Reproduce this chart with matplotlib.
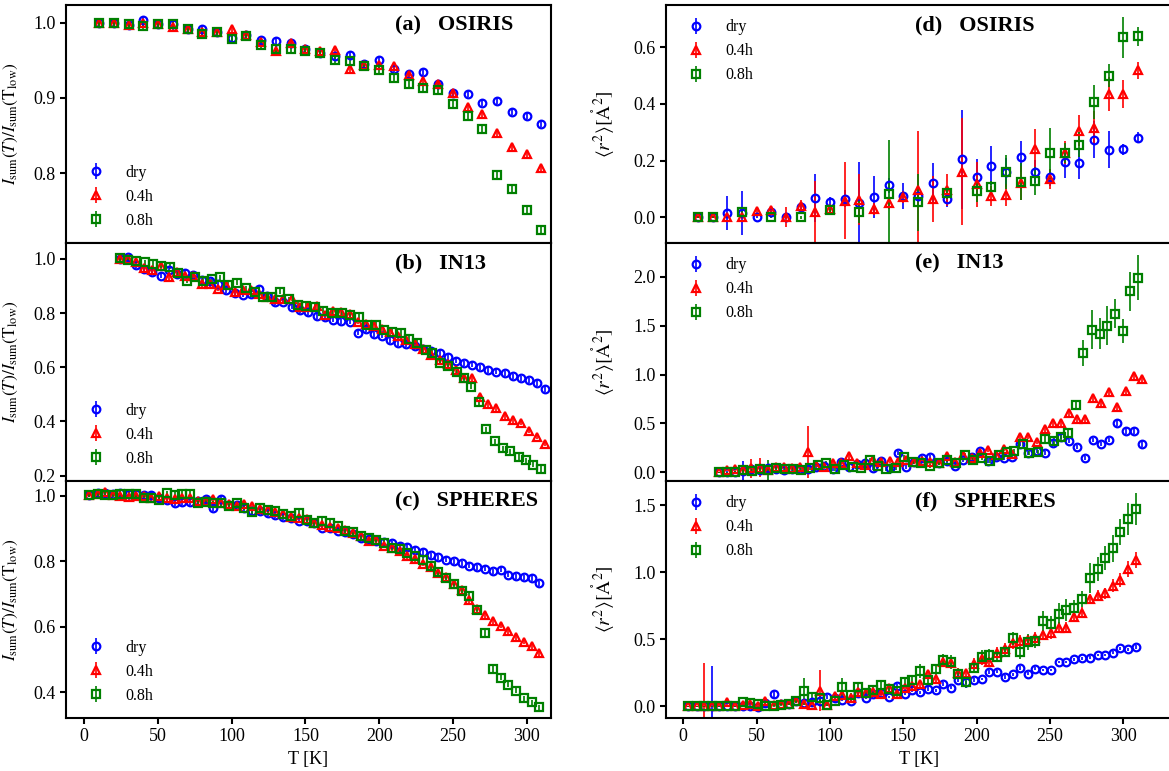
import matplotlib

matplotlib.use("Agg")
import matplotlib.pyplot as plt

plt.rcParams["font.family"] = ["Liberation Serif", "DejaVu Serif"]
plt.rcParams["mathtext.fontset"] = "stix"

# ---- temperatures [K] -------------------------------------------------------
T_osiris = [10, 20, 30, 40, 50, 60, 70, 80, 90, 100, 110, 120, 130, 140, 150, 160,
            170, 180, 190, 200, 210, 220, 230, 240, 250, 260, 270, 280, 290, 300, 310]
T_osiris_08 = [10, 20, 40, 60, 80, 100, 120, 140, 160, 180, 200, 210, 220, 230, 240,
               250, 260, 270, 280, 290, 300, 310]
T_in13 = [24, 29.5, 35, 40.5, 46, 52, 57.5, 63, 68.5, 74, 79.5, 85, 90.5, 96, 102,
          107.5, 113, 118.5, 124, 129.5, 135, 141, 146.5, 152, 157.5, 163, 168.5, 174,
          180, 185.5, 191, 196.5, 202, 207.5, 213, 218.5, 224, 229.5, 235, 241, 246.5,
          252, 257.5, 263, 268.5, 274, 279.5, 285, 290.5, 296, 301.5, 307, 312.5]
T_in13_08 = [24, 29.5, 35, 41, 46.5, 52, 58, 63.5, 69.5, 75, 80.5, 86.5, 92, 97.5,
             103.5, 109.5, 115.5, 121, 127.5, 133, 138.5, 145, 150.5, 156.5, 162, 168,
             174.5, 180, 186, 192, 197.5, 203.5, 209, 215, 220.5, 225.5, 231.5, 236,
             241.5, 246.5, 252.5, 257.5, 262.5, 267.5, 272.5, 278.5, 284, 289, 294.5,
             299.5, 304.5, 310]
T_spheres = [3.5, 9, 14, 19.5, 24.5, 30, 35, 40.5, 45.5, 51, 56, 61.5, 66.5, 72, 77,
             82.5, 87.5, 93, 98, 103.5, 108.5, 114, 119, 124.5, 129.5, 135, 140.5, 145.5,
             151, 156, 161.5, 166.5, 172, 177, 182.5, 187.5, 193, 198, 203.5, 208.5, 214,
             219, 224.5, 229.5, 235, 240, 245.5, 250.5, 256, 261, 266.5, 272, 277, 282.5,
             287.5, 293, 298, 303.5, 308.5]

# ---- (a) OSIRIS  I_sum(T)/I_sum(T_low) --------------------------------------
a_dry = [1.000, 1.000, 0.997, 1.003, 0.998, 0.998, 0.991, 0.992, 0.988, 0.980, 0.983,
         0.977, 0.976, 0.973, 0.965, 0.960, 0.956, 0.957, 0.945, 0.950, 0.939, 0.932,
         0.934, 0.919, 0.906, 0.905, 0.894, 0.896, 0.881, 0.876, 0.866]
a_04 = [1.000, 1.000, 0.997, 0.999, 0.998, 0.994, 0.992, 0.988, 0.988, 0.991, 0.983,
        0.975, 0.963, 0.973, 0.965, 0.963, 0.964, 0.939, 0.944, 0.944, 0.942, 0.931,
        0.922, 0.919, 0.907, 0.888, 0.879, 0.854, 0.835, 0.826, 0.807]
a_08 = [1.000, 1.000, 0.998, 0.996, 0.998, 0.998, 0.992, 0.985, 0.987, 0.979, 0.982,
        0.970, 0.965, 0.965, 0.963, 0.960, 0.950, 0.949, 0.942, 0.937, 0.927, 0.918,
        0.913, 0.911, 0.892, 0.876, 0.859, 0.798, 0.779, 0.751, 0.725]

# ---- (b) IN13 ----------------------------------------------------------------
b_dry = [1.000, 1.006, 0.976, 0.963, 0.953, 0.938, 0.960, 0.944, 0.950, 0.940, 0.922,
         0.917, 0.909, 0.885, 0.873, 0.868, 0.870, 0.890, 0.865, 0.840, 0.842, 0.824,
         0.812, 0.803, 0.790, 0.787, 0.776, 0.770, 0.769, 0.728, 0.740, 0.722, 0.717,
         0.700, 0.690, 0.686, 0.680, 0.668, 0.660, 0.652, 0.638, 0.625, 0.615, 0.610,
         0.600, 0.590, 0.584, 0.578, 0.566, 0.559, 0.552, 0.542, 0.520]
b_04 = [1.000, 1.000, 0.990, 0.967, 0.960, 0.973, 0.932, 0.952, 0.936, 0.937, 0.906,
        0.907, 0.890, 0.905, 0.878, 0.887, 0.884, 0.870, 0.858, 0.851, 0.851, 0.853,
        0.824, 0.824, 0.827, 0.794, 0.808, 0.803, 0.795, 0.768, 0.761, 0.752, 0.742,
        0.731, 0.716, 0.700, 0.686, 0.668, 0.645, 0.626, 0.612, 0.590, 0.562, 0.560,
        0.490, 0.465, 0.448, 0.420, 0.406, 0.395, 0.366, 0.344, 0.318]
b_08 = [1.002, 0.998, 0.994, 0.988, 0.982, 0.975, 0.972, 0.947, 0.920, 0.932, 0.920,
        0.925, 0.932, 0.904, 0.913, 0.892, 0.879, 0.861, 0.859, 0.879, 0.851, 0.830,
        0.827, 0.824, 0.809, 0.800, 0.800, 0.793, 0.785, 0.756, 0.756, 0.736, 0.732,
        0.726, 0.705, 0.689, 0.664, 0.652, 0.617, 0.605, 0.581, 0.560, 0.529, 0.470,
        0.371, 0.326, 0.301, 0.289, 0.268, 0.256, 0.240, 0.224]

# ---- (c) SPHERES -------------------------------------------------------------
c_dry = [1.003, 1.008, 1.008, 1.006, 1.008, 1.006, 1.005, 1.003, 1.003, 0.993, 0.988,
         0.978, 0.981, 0.981, 0.983, 0.991, 0.962, 0.991, 0.973, 0.973, 0.962, 0.952,
         0.952, 0.947, 0.940, 0.934, 0.932, 0.924, 0.924, 0.917, 0.903, 0.901, 0.893,
         0.888, 0.883, 0.871, 0.868, 0.863, 0.858, 0.855, 0.848, 0.845, 0.835, 0.828,
         0.818, 0.812, 0.805, 0.800, 0.794, 0.787, 0.781, 0.777, 0.769, 0.774, 0.759,
         0.754, 0.751, 0.749, 0.733]
c_04 = [1.003, 1.005, 1.010, 1.003, 1.000, 0.995, 0.998, 1.000, 0.993, 0.998, 0.993,
        0.990, 0.993, 0.993, 0.985, 0.983, 0.990, 0.978, 0.975, 0.970, 0.975, 0.968,
        0.960, 0.955, 0.950, 0.945, 0.935, 0.933, 0.930, 0.918, 0.910, 0.905, 0.902,
        0.895, 0.885, 0.878, 0.862, 0.865, 0.848, 0.840, 0.830, 0.816, 0.806, 0.793,
        0.782, 0.765, 0.752, 0.732, 0.712, 0.682, 0.655, 0.636, 0.618, 0.603, 0.586,
        0.568, 0.554, 0.540, 0.520]
c_08 = [1.003, 1.005, 1.002, 1.003, 1.006, 1.006, 1.005, 0.994, 0.994, 0.988, 1.008,
        1.003, 1.006, 1.006, 0.977, 0.982, 0.977, 0.977, 0.970, 0.977, 0.964, 0.950,
        0.962, 0.957, 0.954, 0.944, 0.937, 0.947, 0.927, 0.917, 0.924, 0.917, 0.907,
        0.891, 0.889, 0.876, 0.872, 0.866, 0.856, 0.841, 0.836, 0.826, 0.815, 0.805,
        0.785, 0.766, 0.750, 0.730, 0.710, 0.695, 0.652, 0.581, 0.471, 0.445, 0.423,
        0.405, 0.382, 0.370, 0.354]

# ---- (d) OSIRIS  <r^2> [A^2] ---------------------------------------------------
d_dry = [0.000, 0.000, 0.014, 0.014, 0.000, 0.020, 0.000, 0.035, 0.067, 0.052, 0.065,
         0.049, 0.071, 0.112, 0.076, 0.076, 0.120, 0.065, 0.205, 0.141, 0.182, 0.158,
         0.214, 0.161, 0.141, 0.194, 0.191, 0.273, 0.238, 0.240, 0.281]
d_dry_err = [0.003, 0.003, 0.060, 0.078, 0.003, 0.010, 0.005, 0.020, 0.085, 0.020,
             0.030, 0.145, 0.075, 0.025, 0.046, 0.020, 0.070, 0.030, 0.175, 0.065,
             0.070, 0.050, 0.055, 0.040, 0.030, 0.055, 0.055, 0.065, 0.065, 0.020, 0.020]
d_04 = [0.000, 0.000, 0.000, 0.000, 0.022, 0.026, 0.000, 0.040, 0.018, 0.029, 0.059,
        0.061, 0.029, 0.049, 0.071, 0.096, 0.064, 0.096, 0.161, 0.116, 0.075, 0.079,
        0.122, 0.240, 0.135, 0.228, 0.305, 0.314, 0.435, 0.435, 0.518]
d_04_err = [0.003, 0.003, 0.003, 0.005, 0.010, 0.015, 0.035, 0.020, 0.110, 0.015,
            0.135, 0.090, 0.020, 0.020, 0.020, 0.210, 0.080, 0.055, 0.190, 0.080,
            0.035, 0.040, 0.060, 0.070, 0.035, 0.040, 0.055, 0.060, 0.060, 0.050, 0.030]
d_08 = [0.000, 0.000, 0.018, 0.000, 0.000, 0.026, 0.020, 0.082, 0.053, 0.085, 0.094,
        0.108, 0.158, 0.126, 0.128, 0.226, 0.228, 0.256, 0.406, 0.500, 0.635, 0.638]
d_08_err = [0.003, 0.003, 0.010, 0.003, 0.005, 0.010, 0.040, 0.190, 0.100, 0.020,
            0.040, 0.020, 0.060, 0.065, 0.050, 0.090, 0.035, 0.045, 0.060, 0.040,
            0.072, 0.035]

# ---- (e) IN13 ----------------------------------------------------------------
e_dry = [0.000, 0.007, 0.007, 0.017, 0.031, 0.024, 0.048, 0.030, 0.024, 0.031, 0.034,
         0.034, 0.058, 0.065, 0.031, 0.109, 0.058, 0.085, 0.092, 0.041, 0.119, 0.041,
         0.194, 0.058, 0.109, 0.143, 0.153, 0.099, 0.116, 0.065, 0.126, 0.160, 0.221,
         0.119, 0.160, 0.143, 0.153, 0.289, 0.194, 0.221, 0.194, 0.303, 0.357, 0.320,
         0.262, 0.143, 0.330, 0.286, 0.330, 0.500, 0.425, 0.422, 0.286]
e_dry_err = [0.005, 0.010, 0.010, 0.100, 0.020, 0.020, 0.020, 0.020, 0.020, 0.020,
             0.020, 0.020, 0.020, 0.020, 0.020, 0.020, 0.020, 0.020, 0.020, 0.020,
             0.020, 0.020, 0.020, 0.020, 0.020, 0.020, 0.020, 0.020, 0.020, 0.020,
             0.020, 0.020, 0.020, 0.020, 0.020, 0.020, 0.020, 0.020, 0.020, 0.020,
             0.020, 0.020, 0.020, 0.020, 0.020, 0.020, 0.020, 0.020, 0.020, 0.030,
             0.030, 0.030, 0.030]
e_04 = [0.000, 0.024, 0.034, 0.024, 0.041, 0.048, 0.024, 0.051, 0.058, 0.048, 0.051,
        0.211, 0.075, 0.058, 0.099, 0.092, 0.167, 0.099, 0.075, 0.126, 0.109, 0.115,
        0.109, 0.126, 0.109, 0.119, 0.109, 0.099, 0.167, 0.109, 0.177, 0.143, 0.201,
        0.228, 0.177, 0.235, 0.187, 0.364, 0.364, 0.313, 0.439, 0.500, 0.507, 0.602,
        0.541, 0.541, 0.755, 0.704, 0.823, 0.670, 0.833, 0.983, 0.959]
e_04_err = [0.005, 0.010, 0.020, 0.020, 0.100, 0.100, 0.020, 0.020, 0.020, 0.020,
            0.020, 0.265, 0.020, 0.020, 0.020, 0.020, 0.040, 0.020, 0.020, 0.020,
            0.020, 0.020, 0.020, 0.020, 0.020, 0.020, 0.020, 0.020, 0.020, 0.020,
            0.020, 0.020, 0.020, 0.020, 0.020, 0.020, 0.020, 0.020, 0.020, 0.020,
            0.030, 0.030, 0.030, 0.030, 0.030, 0.030, 0.040, 0.040, 0.040, 0.040,
            0.040, 0.040, 0.040]
e_08 = [0.000, 0.000, 0.007, 0.024, 0.017, 0.031, 0.024, 0.041, 0.031, 0.031, 0.024,
        0.041, 0.075, 0.092, 0.031, 0.075, 0.058, 0.048, 0.126, 0.065, 0.031, 0.048,
        0.153, 0.109, 0.099, 0.065, 0.099, 0.126, 0.099, 0.177, 0.126, 0.143, 0.116,
        0.177, 0.211, 0.221, 0.289, 0.194, 0.204, 0.337, 0.320, 0.364, 0.405, 0.687,
        1.221, 1.459, 1.418, 1.497, 1.622, 1.446, 1.850, 1.990]
e_08_err = [0.005, 0.005, 0.010, 0.050, 0.020, 0.020, 0.100, 0.020, 0.020, 0.020,
            0.020, 0.020, 0.020, 0.020, 0.020, 0.020, 0.020, 0.020, 0.020, 0.020,
            0.020, 0.020, 0.020, 0.020, 0.020, 0.020, 0.020, 0.020, 0.020, 0.020,
            0.020, 0.020, 0.020, 0.020, 0.020, 0.020, 0.020, 0.020, 0.020, 0.030,
            0.030, 0.030, 0.030, 0.050, 0.130, 0.200, 0.160, 0.200, 0.150, 0.120,
            0.200, 0.230]

# ---- (f) SPHERES -------------------------------------------------------------
f_dry = [0.000, 0.000, 0.000, 0.000, 0.000, 0.000, 0.000, 0.005, 0.005, -0.005,
         0.025, 0.093, 0.018, 0.018, 0.043, 0.025, 0.033, 0.038, 0.068, 0.060,
         0.050, 0.038, 0.100, 0.063, 0.090, 0.100, 0.070, 0.150, 0.093, 0.120,
         0.105, 0.133, 0.120, 0.170, 0.138, 0.200, 0.180, 0.195, 0.205, 0.255,
         0.258, 0.220, 0.238, 0.288, 0.243, 0.280, 0.270, 0.270, 0.330, 0.330,
         0.350, 0.358, 0.363, 0.383, 0.383, 0.400, 0.433, 0.425, 0.443]
f_dry_err = [0.005, 0.005, 0.005, 0.300, 0.005, 0.005, 0.005, 0.010, 0.010, 0.010,
             0.010, 0.030, 0.010, 0.010, 0.010, 0.010, 0.010, 0.010, 0.015, 0.010,
             0.010, 0.010, 0.015, 0.010, 0.015, 0.015, 0.010, 0.015, 0.010, 0.015,
             0.010, 0.015, 0.010, 0.015, 0.010, 0.015, 0.010, 0.015, 0.010, 0.015,
             0.010, 0.015, 0.010, 0.015, 0.010, 0.010, 0.010, 0.010, 0.010, 0.010,
             0.010, 0.010, 0.010, 0.010, 0.010, 0.010, 0.010, 0.010, 0.015]
f_04 = [0.000, 0.000, 0.000, 0.000, 0.005, 0.030, 0.005, 0.008, 0.018, 0.000,
        0.040, 0.013, 0.020, 0.018, 0.043, 0.018, 0.013, 0.118, 0.013, 0.075,
        0.088, 0.063, 0.110, 0.100, 0.110, 0.093, 0.140, 0.093, 0.140, 0.150,
        0.168, 0.243, 0.205, 0.330, 0.325, 0.250, 0.245, 0.318, 0.350, 0.330,
        0.400, 0.430, 0.470, 0.490, 0.493, 0.513, 0.533, 0.545, 0.588, 0.588,
        0.668, 0.700, 0.800, 0.825, 0.843, 0.900, 0.943, 1.025, 1.093]
f_04_err = [0.005, 0.005, 0.320, 0.005, 0.005, 0.020, 0.005, 0.010, 0.010, 0.010,
            0.020, 0.010, 0.010, 0.010, 0.020, 0.010, 0.010, 0.155, 0.010, 0.030,
            0.030, 0.020, 0.030, 0.020, 0.030, 0.020, 0.030, 0.020, 0.030, 0.030,
            0.030, 0.030, 0.030, 0.040, 0.040, 0.030, 0.030, 0.040, 0.040, 0.040,
            0.040, 0.040, 0.040, 0.040, 0.040, 0.040, 0.040, 0.040, 0.040, 0.040,
            0.040, 0.040, 0.040, 0.040, 0.040, 0.050, 0.050, 0.060, 0.060]
f_08 = [0.000, 0.000, 0.000, 0.000, 0.000, 0.000, 0.000, 0.030, 0.025, 0.020,
        0.005, 0.005, 0.013, 0.020, 0.038, 0.113, 0.070, 0.063, 0.013, 0.038,
        0.145, 0.083, 0.143, 0.100, 0.125, 0.158, 0.130, 0.113, 0.180, 0.200,
        0.263, 0.193, 0.275, 0.343, 0.330, 0.243, 0.180, 0.288, 0.368, 0.380,
        0.370, 0.405, 0.508, 0.405, 0.480, 0.488, 0.633, 0.613, 0.688, 0.718,
        0.733, 0.800, 0.958, 1.025, 1.108, 1.180, 1.300, 1.400, 1.470]
f_08_err = [0.005, 0.005, 0.005, 0.005, 0.005, 0.005, 0.005, 0.010, 0.010, 0.010,
            0.010, 0.010, 0.010, 0.010, 0.010, 0.100, 0.020, 0.020, 0.010, 0.010,
            0.070, 0.020, 0.030, 0.030, 0.030, 0.030, 0.030, 0.030, 0.030, 0.030,
            0.050, 0.030, 0.040, 0.050, 0.050, 0.040, 0.040, 0.040, 0.050, 0.050,
            0.040, 0.040, 0.050, 0.050, 0.060, 0.050, 0.080, 0.060, 0.080, 0.080,
            0.060, 0.060, 0.110, 0.090, 0.090, 0.100, 0.100, 0.120, 0.120]

labels = ["dry", "0.4h", "0.8h"]
colors = ["b", "r", "g"]
markers = ["o", "^", "s"]
msizes = [5.5, 5.5, 5.5]

ylabel_left = r"$I_{\rm sum}(T)/I_{\rm sum}(\mathrm{T}_{\rm low})$"
ylabel_right = r"$\langle r^2\rangle[\mathring{\mathrm{A}}^2]$"


def draw(ax, series, ylim, yticks, legend_loc):
    for (t, y, err), lab, c, m, ms in zip(series, labels, colors, markers, msizes):
        ax.errorbar(t, y, yerr=err, fmt=m, ls="none", color=c, mec=c, mfc="none",
                    mew=1.6, ms=ms, elinewidth=1.2, capsize=0, label=lab)
    ax.set_ylim(*ylim)
    ax.set_yticks(yticks)
    ax.set_xticks([0, 50, 100, 150, 200, 250, 300])
    ax.tick_params(direction="out", length=4, width=1.5, labelsize=13)
    for sp in ax.spines.values():
        sp.set_linewidth(1.5)
    ax.legend(loc=legend_loc, frameon=False, fontsize=11.5)
    return ax


fig = plt.figure(figsize=(11.69, 7.71), dpi=100)
W, H = 1169.0, 771.0
rows = [(5, 243), (243, 481), (481, 718)]
left_x, left_w = 66 / W, 485 / W
right_x, right_w = 666 / W, (1172 - 666) / W

left_panels = [
    ([(T_osiris, a_dry, 0.004), (T_osiris, a_04, 0.004), (T_osiris, a_08, 0.004)],
     (0.7074, 1.0235), [0.8, 0.9, 1.0], "(a)   OSIRIS"),
    ([(T_in13, b_dry, 0.01), (T_in13, b_04, 0.01), (T_in13_08, b_08, 0.01)],
     (0.180, 1.059), [0.2, 0.4, 0.6, 0.8, 1.0], "(b)   IN13"),
    ([(T_spheres, c_dry, 0.008), (T_spheres, c_04, 0.008), (T_spheres, c_08, 0.008)],
     (0.3216, 1.045), [0.4, 0.6, 0.8, 1.0], "(c)   SPHERES"),
]
right_panels = [
    ([(T_osiris, d_dry, d_dry_err), (T_osiris, d_04, d_04_err),
      (T_osiris_08, d_08, d_08_err)],
     (-0.091, 0.749), [0.0, 0.2, 0.4, 0.6], "(d)   OSIRIS"),
    ([(T_in13, e_dry, e_dry_err), (T_in13, e_04, e_04_err),
      (T_in13_08, e_08, e_08_err)],
     (-0.089, 2.345), [0.0, 0.5, 1.0, 1.5, 2.0], "(e)   IN13"),
    ([(T_spheres, f_dry, f_dry_err), (T_spheres, f_04, f_04_err),
      (T_spheres, f_08, f_08_err)],
     (-0.087, 1.681), [0.0, 0.5, 1.0, 1.5], "(f)   SPHERES"),
]

for i, (top, bot) in enumerate(rows):
    b = 1 - bot / H
    h = (bot - top) / H
    axl = fig.add_axes([left_x, b, left_w, h])
    series, ylim, yt, title = left_panels[i]
    draw(axl, series, ylim, yt, "lower left")
    axl.set_xlim(-12.4, 316.5)
    axl.set_ylabel(ylabel_left, fontsize=12.5)
    axl.yaxis.set_label_coords(-0.095, 0.5)
    axl.text(0.678, 0.915, title, transform=axl.transAxes, fontsize=16,
             fontweight="bold", va="center", ha="left")

    axr = fig.add_axes([right_x, b, right_w, h])
    series, ylim, yt, title = right_panels[i]
    draw(axr, series, ylim, yt, "upper left")
    axr.set_xlim(-11.8, 333.2)
    axr.set_ylabel(ylabel_right, fontsize=14)
    axr.yaxis.set_label_coords(-0.097, 0.5)
    axr.text(0.492, 0.915, title, transform=axr.transAxes, fontsize=16,
             fontweight="bold", va="center", ha="left")

    for ax in (axl, axr):
        if i < 2:
            ax.tick_params(axis="x", length=0, labelbottom=False)
        else:
            ax.set_xlabel("T [K]", fontsize=13)

fig.savefig("out.png", dpi=100)
